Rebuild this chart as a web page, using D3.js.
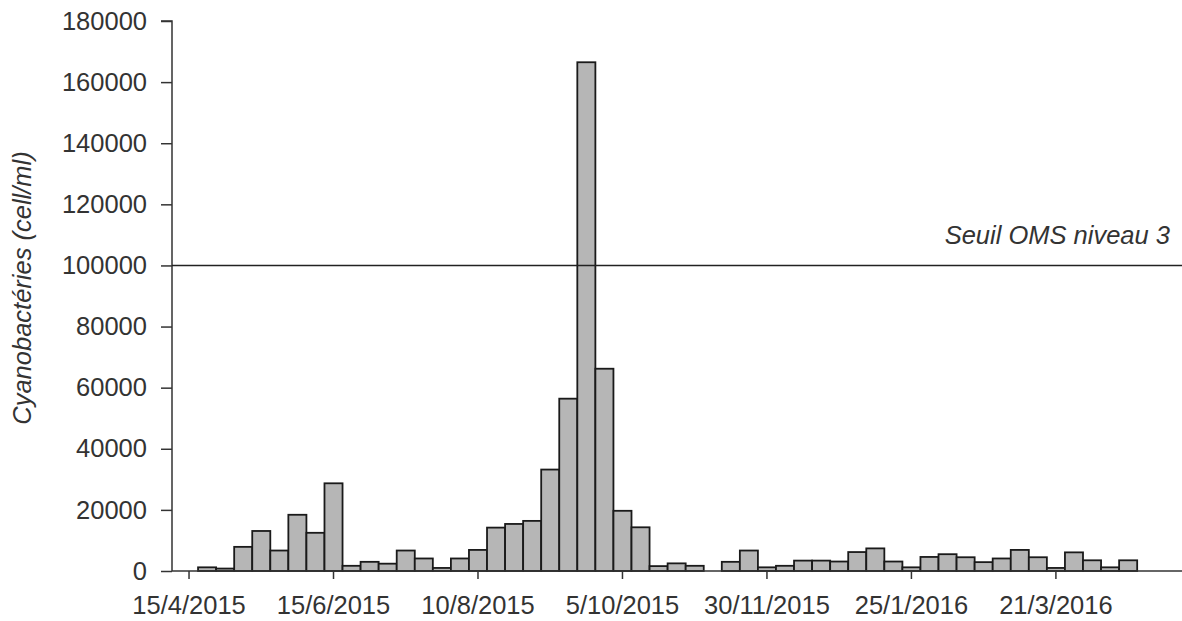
<!DOCTYPE html>
<html>
<head>
<meta charset="utf-8">
<script src="https://cdn.jsdelivr.net/npm/d3@7"></script>
<style>
  body { margin: 0; background: #fff; }
  text { font-family: "Liberation Sans", Arial, sans-serif; fill: #333; }
</style>
</head>
<body>
<div id="chart"></div>
<script>
// sampling dates (weekly), one bar per date
const dates = [
  "15/4/2015", "22/4/2015", "29/4/2015", "6/5/2015", "13/5/2015", "20/5/2015", "27/5/2015", "3/6/2015",
  "15/6/2015", "22/6/2015", "29/6/2015", "6/7/2015", "13/7/2015", "20/7/2015", "27/7/2015", "3/8/2015",
  "10/8/2015", "17/8/2015", "24/8/2015", "31/8/2015", "7/9/2015", "14/9/2015", "21/9/2015", "28/9/2015",
  "5/10/2015", "12/10/2015", "19/10/2015", "26/10/2015", "2/11/2015", "9/11/2015", "16/11/2015", "23/11/2015",
  "30/11/2015", "7/12/2015", "14/12/2015", "21/12/2015", "28/12/2015", "4/1/2016", "11/1/2016", "18/1/2016",
  "25/1/2016", "1/2/2016", "8/2/2016", "15/2/2016", "22/2/2016", "29/2/2016", "7/3/2016", "14/3/2016",
  "21/3/2016", "28/3/2016", "4/4/2016", "11/4/2016", "18/4/2016"
];
// cyanobacteria counts (cell/ml), null = no bar
const cells = [
  null, 1200, 800, 7900, 13100, 6700, 18400, 12500,
  28700, 1700, 3000, 2400, 6700, 4100, 1000, 4100,
  6900, 14200, 15400, 16400, 33200, 56400, 166500, 66200,
  19700, 14300, 1600, 2500, 1700, null, 3000, 6700,
  1200, 1700, 3400, 3400, 3100, 6200, 7400, 3100,
  1200, 4600, 5500, 4500, 2900, 4100, 6900, 4500,
  1000, 6100, 3500, 1200, 3500
];
const tickLabels = ["15/4/2015", "15/6/2015", "10/8/2015", "5/10/2015", "30/11/2015", "25/1/2016", "21/3/2016"];
const yTicks = [0, 20000, 40000, 60000, 80000, 100000, 120000, 140000, 160000, 180000];
const threshold = 100000;
const thresholdLabel = "Seuil OMS niveau 3";
const yTitle = "Cyanobactéries (cell/ml)";

const width = 1182, height = 621;
const axisX = 172, baseY = 571, topY = 21;

const svg = d3.select("#chart").append("svg")
  .attr("width", width)
  .attr("height", height);

const x = d3.scaleBand()
  .domain(dates)
  .range([180, 180 + dates.length * 18.06])
  .padding(0);

const y = d3.scaleLinear()
  .domain([0, 180000])
  .range([baseY, topY]);

// bars
svg.append("g")
  .selectAll("rect")
  .data(dates.map((d, i) => ({ date: d, value: cells[i] })).filter(d => d.value !== null))
  .join("rect")
  .attr("x", d => x(d.date))
  .attr("y", d => y(d.value))
  .attr("width", x.bandwidth())
  .attr("height", d => y(0) - y(d.value))
  .attr("fill", "#b6b6b6")
  .attr("stroke", "#1a1a1a")
  .attr("stroke-width", 1.8);

// y axis
const yAxis = svg.append("g")
  .attr("transform", `translate(${axisX},0)`)
  .call(d3.axisLeft(y).tickValues(yTicks).tickSize(11).tickPadding(14).tickFormat(d3.format("d")));
yAxis.selectAll("text").style("font-size", "25.5px");
yAxis.selectAll("line, path").attr("stroke", "#333").attr("stroke-width", 1.5);
yAxis.select(".domain").attr("d", `M-11,${topY}H0V${baseY}`);

// x axis
const xAxis = svg.append("g")
  .attr("transform", `translate(0,${baseY})`)
  .call(d3.axisBottom(x).tickValues(tickLabels).tickSize(8).tickPadding(17));
xAxis.selectAll("text").style("font-size", "25.5px");
xAxis.selectAll("line, path").attr("stroke", "#333").attr("stroke-width", 1.5);
xAxis.select(".domain").attr("d", `M${axisX},0H${width}`);

// threshold line
svg.append("line")
  .attr("x1", axisX)
  .attr("x2", width)
  .attr("y1", y(threshold))
  .attr("y2", y(threshold))
  .attr("stroke", "#222")
  .attr("stroke-width", 1.6);

svg.append("text")
  .attr("x", 1170)
  .attr("y", y(threshold) - 21)
  .attr("text-anchor", "end")
  .style("font-size", "25.5px")
  .style("font-style", "italic")
  .text(thresholdLabel);

// y title
svg.append("text")
  .attr("transform", `translate(31,${288}) rotate(-90)`)
  .attr("text-anchor", "middle")
  .style("font-size", "25.5px")
  .style("font-style", "italic")
  .text(yTitle);
</script>
</body>
</html>
